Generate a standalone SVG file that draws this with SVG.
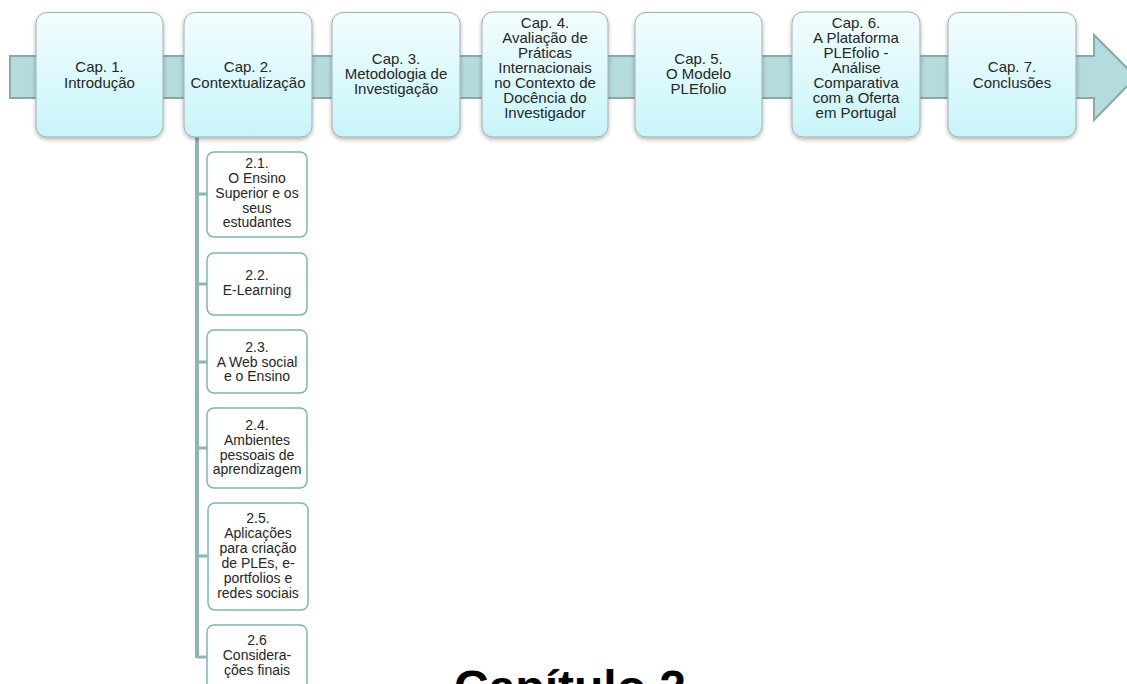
<svg xmlns="http://www.w3.org/2000/svg" width="1127" height="684" viewBox="0 0 1127 684">
<defs>
<linearGradient id="ng" x1="0" y1="0" x2="0" y2="1">
<stop offset="0" stop-color="#f3fdfe"/>
<stop offset="1" stop-color="#c8f5fa"/>
</linearGradient>
<filter id="sh" x="-10%" y="-10%" width="120%" height="125%">
<feDropShadow dx="0" dy="2" stdDeviation="2" flood-color="#000" flood-opacity="0.3"/>
</filter>
<style>
.main{fill:url(#ng);stroke:#a3adae;stroke-width:1;filter:url(#sh)}
.sub{fill:#ffffff;stroke:#7db4b9;stroke-width:1.5}
.t{font-family:"Liberation Sans",Arial,sans-serif;font-size:15px;fill:#262626;text-anchor:middle}
.s{font-family:"Liberation Sans",Arial,sans-serif;font-size:14px;fill:#262626;text-anchor:middle}
.band{fill:#b4dbde;stroke:#8aa9ab;stroke-width:2}
.ln{stroke:#8fb4b7;fill:none}
</style>
</defs>
<rect width="1127" height="684" fill="#ffffff"/>
<g id="timeline-arrow">
<polygon class="band" points="10,56 1094,56 1094,35 1136,77 1094,120 1094,98 10,98"/>
</g>
<g id="connectors">
<line class="ln" x1="197" y1="137" x2="197" y2="658" stroke-width="4"/>
<line class="ln" x1="197" y1="194" x2="207" y2="194" stroke-width="3"/>
<line class="ln" x1="197" y1="284" x2="207" y2="284" stroke-width="3"/>
<line class="ln" x1="197" y1="362" x2="207" y2="362" stroke-width="3"/>
<line class="ln" x1="197" y1="448" x2="207" y2="448" stroke-width="3"/>
<line class="ln" x1="197" y1="556" x2="207" y2="556" stroke-width="3"/>
<line class="ln" x1="197" y1="657" x2="207" y2="657" stroke-width="3"/>
</g>
<g id="cap1">
<rect class="main" x="36" y="12.5" width="127" height="124.5" rx="11"/>
<text class="t" x="99.5" y="72">Cap. 1.</text>
<text class="t" x="99.5" y="87.5">Introdução</text>
</g>
<g id="cap2">
<rect class="main" x="184" y="12.5" width="128" height="124.5" rx="11"/>
<text class="t" x="248" y="72">Cap. 2.</text>
<text class="t" x="248" y="87.5">Contextualização</text>
</g>
<g id="cap3">
<rect class="main" x="332" y="12.5" width="128" height="124.5" rx="11"/>
<text class="t" x="396" y="64">Cap. 3.</text>
<text class="t" x="396" y="79">Metodologia de</text>
<text class="t" x="396" y="94">Investigação</text>
</g>
<g id="cap4">
<rect class="main" x="482" y="12" width="126" height="125" rx="11"/>
<text class="t" x="545" y="28">Cap. 4.</text>
<text class="t" x="545" y="43">Avaliação de</text>
<text class="t" x="545" y="58">Práticas</text>
<text class="t" x="545" y="73">Internacionais</text>
<text class="t" x="545" y="88">no Contexto de</text>
<text class="t" x="545" y="103">Docência do</text>
<text class="t" x="545" y="118">Investigador</text>
</g>
<g id="cap5">
<rect class="main" x="635" y="12.5" width="127" height="124.5" rx="11"/>
<text class="t" x="698.5" y="64">Cap. 5.</text>
<text class="t" x="698.5" y="79">O Modelo</text>
<text class="t" x="698.5" y="94">PLEfolio</text>
</g>
<g id="cap6">
<rect class="main" x="792" y="12" width="128" height="125" rx="11"/>
<text class="t" x="856" y="28">Cap. 6.</text>
<text class="t" x="856" y="43">A Plataforma</text>
<text class="t" x="856" y="58">PLEfolio -</text>
<text class="t" x="856" y="73">Análise</text>
<text class="t" x="856" y="88">Comparativa</text>
<text class="t" x="856" y="103">com a Oferta</text>
<text class="t" x="856" y="118">em Portugal</text>
</g>
<g id="cap7">
<rect class="main" x="948" y="12.5" width="128" height="124.5" rx="11"/>
<text class="t" x="1012" y="72">Cap. 7.</text>
<text class="t" x="1012" y="87.5">Conclusões</text>
</g>
<g id="sub21">
<rect class="sub" x="207" y="152" width="100" height="85" rx="7"/>
<text class="s" x="257" y="168">2.1.</text>
<text class="s" x="257" y="183">O Ensino</text>
<text class="s" x="257" y="198">Superior e os</text>
<text class="s" x="257" y="212.5">seus</text>
<text class="s" x="257" y="227">estudantes</text>
</g>
<g id="sub22">
<rect class="sub" x="207" y="253" width="100" height="62" rx="7"/>
<text class="s" x="257" y="280">2.2.</text>
<text class="s" x="257" y="295">E-Learning</text>
</g>
<g id="sub23">
<rect class="sub" x="207" y="330" width="100" height="63" rx="7"/>
<text class="s" x="257" y="352">2.3.</text>
<text class="s" x="257" y="366.5">A Web social</text>
<text class="s" x="257" y="381">e o Ensino</text>
</g>
<g id="sub24">
<rect class="sub" x="207" y="408" width="100" height="80" rx="7"/>
<text class="s" x="257" y="430">2.4.</text>
<text class="s" x="257" y="445">Ambientes</text>
<text class="s" x="257" y="459.5">pessoais de</text>
<text class="s" x="257" y="474">aprendizagem</text>
</g>
<g id="sub25">
<rect class="sub" x="208" y="503" width="100" height="107" rx="7"/>
<text class="s" x="258" y="523">2.5.</text>
<text class="s" x="258" y="538">Aplicações</text>
<text class="s" x="258" y="553">para criação</text>
<text class="s" x="258" y="568">de PLEs, e-</text>
<text class="s" x="258" y="583">portfolios e</text>
<text class="s" x="258" y="598">redes sociais</text>
</g>
<g id="sub26">
<rect class="sub" x="207" y="625" width="100" height="66" rx="7"/>
<text class="s" x="257" y="645">2.6</text>
<text class="s" x="257" y="660">Considera-</text>
<text class="s" x="257" y="675">ções finais</text>
</g>
<g id="title">
<text x="570" y="704" font-family="'Liberation Sans',Arial,sans-serif" font-size="48" font-weight="bold" fill="#000" text-anchor="middle">Capítulo 2</text>
</g>
</svg>
